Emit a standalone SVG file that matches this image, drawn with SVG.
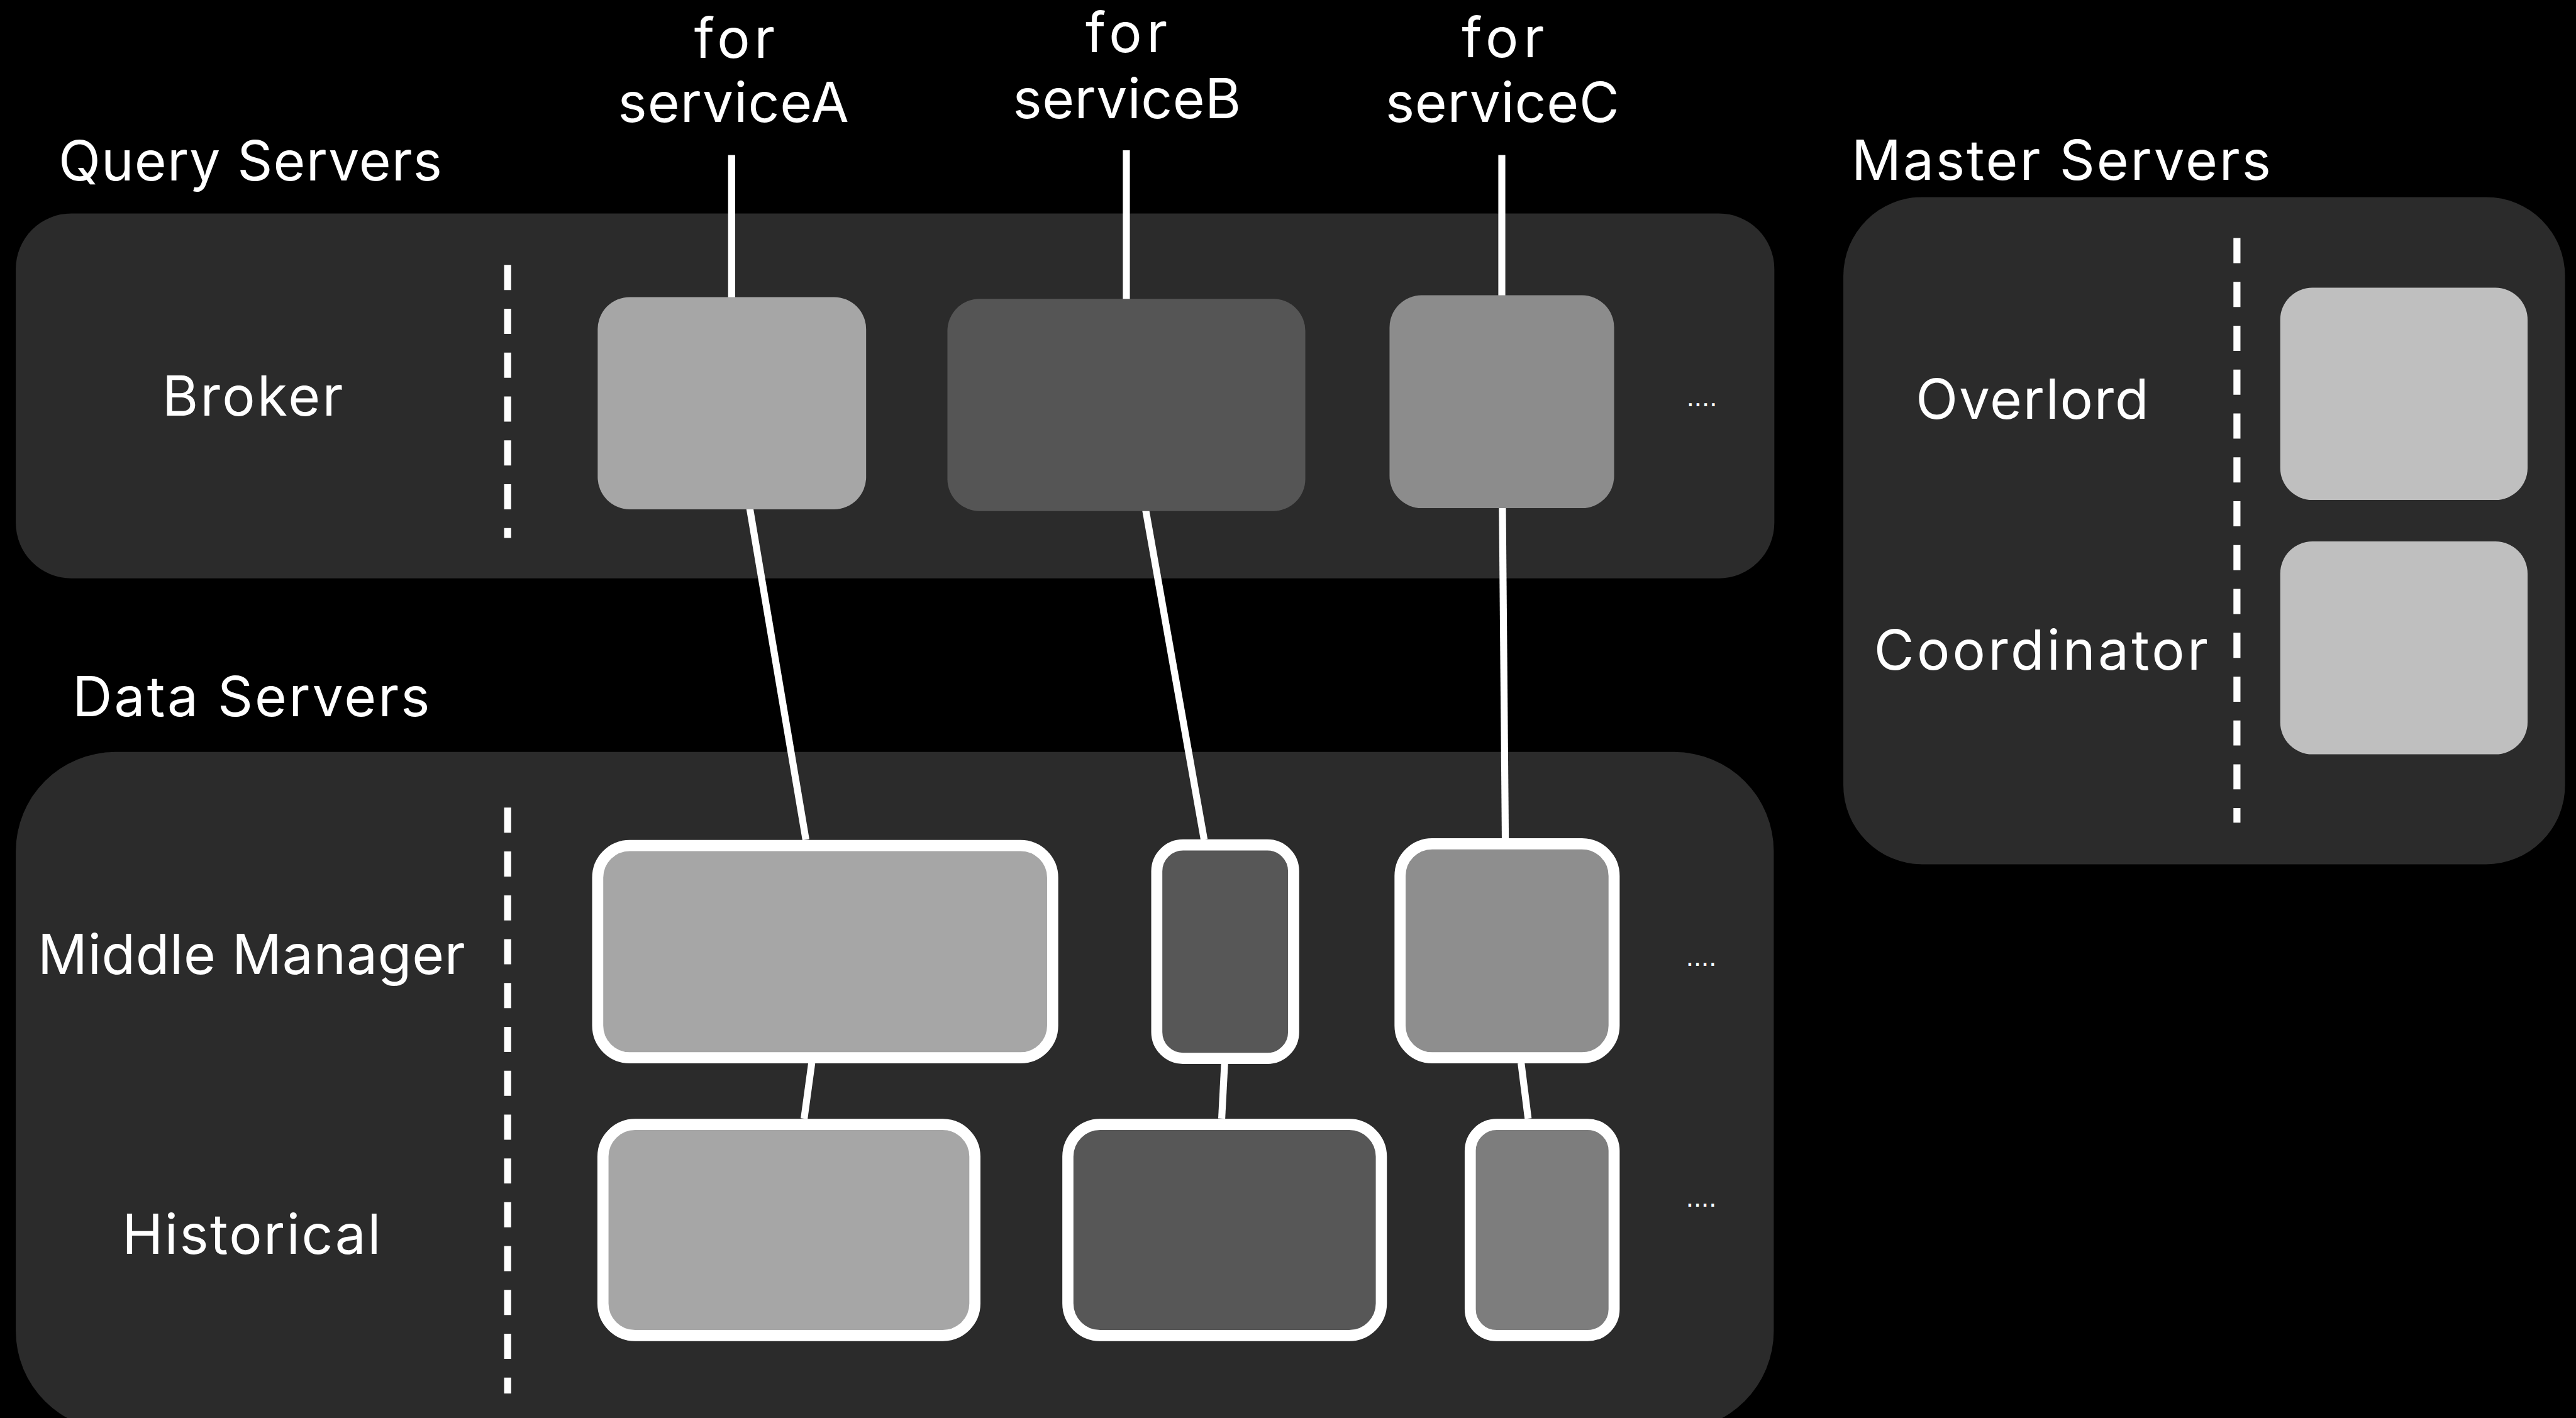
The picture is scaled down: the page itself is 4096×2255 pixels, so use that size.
<svg xmlns="http://www.w3.org/2000/svg" width="4096" height="2255" viewBox="0 0 4096 2255">
<style>
.bg{fill:#000}
.cont{fill:#2b2b2b}
.lbl{font-family:Inter,"Liberation Sans",sans-serif;font-size:94px;fill:#fff}
.mid{text-anchor:middle}
.dash{stroke:#fff;stroke-width:12;stroke-dasharray:43 32;fill:none}
.conn{stroke:#fff;stroke-width:12;fill:none}
.box{stroke:#fff;stroke-width:19}
.dots{font-family:"Liberation Sans",sans-serif;font-size:47px;fill:#fff;text-anchor:middle}
</style>
<rect class="bg" x="0" y="0" width="4096" height="2255"/>
<g transform="scale(0.9299)">
  <g id="query-servers">
    <rect class="cont" x="27" y="365" width="3007" height="624" rx="95"/>
    <text class="lbl" x="100" y="309" textLength="656">Query Servers</text>
    <line class="dash" x1="868" y1="453" x2="868" y2="920"/>
    <text class="lbl mid" x="432" y="711" textLength="309">Broker</text>
  </g>
  <g id="data-servers">
    <rect class="cont" x="27" y="1286" width="3006" height="1160" rx="170"/>
    <text class="lbl" x="124" y="1225" textLength="611">Data Servers</text>
    <line class="dash" x1="868" y1="1381" x2="868" y2="2383"/>
    <text class="lbl mid" x="430" y="1666" textLength="731">Middle Manager</text>
    <text class="lbl mid" x="430" y="2144" textLength="442">Historical</text>
  </g>
  <g id="master-servers">
    <rect class="cont" x="3152" y="337" width="1234" height="1141" rx="135"/>
    <text class="lbl" x="3166" y="308" textLength="717">Master Servers</text>
    <line class="dash" x1="3825" y1="407" x2="3825" y2="1407"/>
    <text class="lbl mid" x="3475" y="716" textLength="398">Overlord</text>
    <text class="lbl mid" x="3490" y="1145" textLength="571">Coordinator</text>
  </g>
  <g id="service-labels">
    <text class="lbl mid" x="1256" y="99" textLength="138">for</text>
    <text class="lbl mid" x="1254" y="209" textLength="395">serviceA</text>
    <text class="lbl mid" x="1926" y="89" textLength="140">for</text>
    <text class="lbl mid" x="1927" y="202" textLength="390">serviceB</text>
    <text class="lbl mid" x="2570" y="98" textLength="141">for</text>
    <text class="lbl mid" x="2569" y="209" textLength="400">serviceC</text>
  </g>
  <g id="connectors">
    <line class="conn" x1="1251" y1="265" x2="1251" y2="510"/>
    <line class="conn" x1="1926" y1="257" x2="1926" y2="513"/>
    <line class="conn" x1="2568" y1="265" x2="2568" y2="507"/>
    <line class="conn" x1="1282" y1="869" x2="1378" y2="1436"/>
    <line class="conn" x1="1959" y1="872" x2="2059" y2="1436"/>
    <line class="conn" x1="2569" y1="867" x2="2574" y2="1436"/>
    <line class="conn" x1="1388" y1="1818" x2="1375" y2="1913"/>
    <line class="conn" x1="2094" y1="1818" x2="2089" y2="1913"/>
    <line class="conn" x1="2601" y1="1818" x2="2613" y2="1913"/>
  </g>
  <g id="broker-a"><rect x="1022" y="508" width="459" height="363" rx="55" fill="#a6a6a6"/></g>
  <g id="broker-b"><rect x="1620" y="511" width="612" height="363" rx="55" fill="#555555"/></g>
  <g id="broker-c"><rect x="2376" y="505" width="384" height="364" rx="55" fill="#8c8c8c"/></g>
  <text class="dots" x="2910" y="695">....</text>
  <g id="mm-a"><rect class="box" x="1022" y="1446" width="778" height="363" rx="55" fill="#a6a6a6"/></g>
  <g id="mm-b"><rect class="box" x="1978" y="1445" width="234" height="365" rx="45" fill="#575757"/></g>
  <g id="mm-c"><rect class="box" x="2394" y="1443" width="366" height="366" rx="55" fill="#8e8e8e"/></g>
  <text class="dots" x="2909" y="1652">....</text>
  <g id="hist-a"><rect class="box" x="1031" y="1923" width="636" height="361" rx="55" fill="#a6a6a6"/></g>
  <g id="hist-b"><rect class="box" x="1826" y="1923" width="536" height="361" rx="55" fill="#575757"/></g>
  <g id="hist-c"><rect class="box" x="2514" y="1923" width="246" height="361" rx="45" fill="#7d7d7d"/></g>
  <text class="dots" x="2909" y="2064">....</text>
  <g id="overlord"><rect x="3899" y="492" width="423" height="363" rx="55" fill="#bfbfbf"/></g>
  <g id="coordinator"><rect x="3899" y="926" width="423" height="364" rx="55" fill="#bfbfbf"/></g>
</g>
</svg>
